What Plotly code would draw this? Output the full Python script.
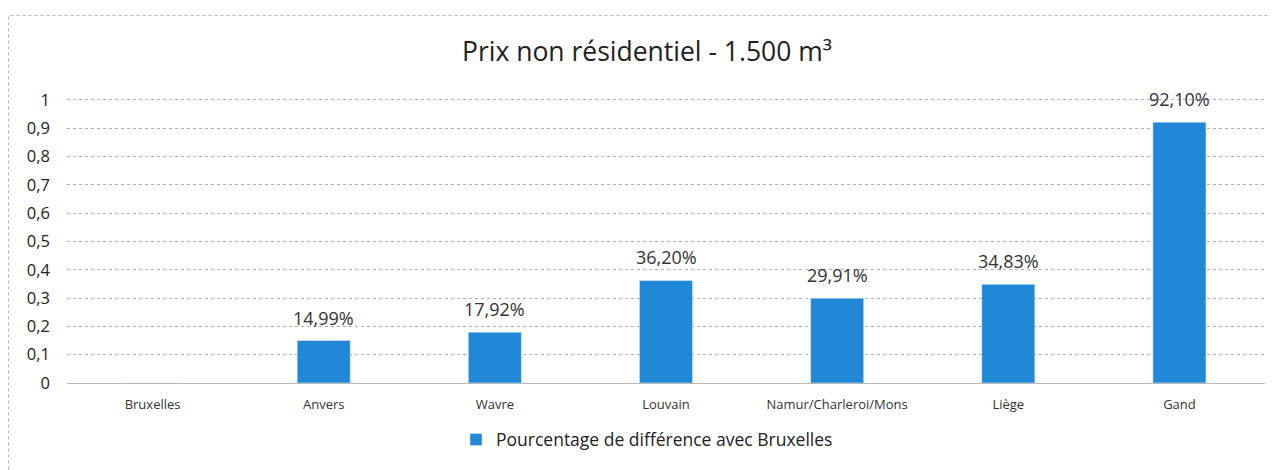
import plotly.graph_objects as go

categories = ["Bruxelles", "Anvers", "Wavre", "Louvain", "Namur/Charleroi/Mons", "Liège", "Gand"]
values = [0, 0.1499, 0.1792, 0.3620, 0.2991, 0.3483, 0.9210]
labels = ["", "14,99%", "17,92%", "36,20%", "29,91%", "34,83%", "92,10%"]
series_name = "Pourcentage de différence avec Bruxelles"
y_ticks = [0, 0.1, 0.2, 0.3, 0.4, 0.5, 0.6, 0.7, 0.8, 0.9, 1]
y_tick_text = ["0", "0,1", "0,2", "0,3", "0,4", "0,5", "0,6", "0,7", "0,8", "0,9", "1"]

FONT = "Open Sans"
OFF = 8  # page body margin
W, H = 1279 - OFF, 470 - OFF
YMAX = 1.01
# target page pixel positions
plot_left, plot_right = 67, 1265
y0_px, y1_px = 385, 100
ph = (y0_px - y1_px) * YMAX
T = (y0_px - ph) - OFF
B = H - (y0_px - OFF)
L = plot_left - OFF
R = W - (plot_right - OFF)
pw = W - L - R

def px_x(p):
    return (p - OFF - L) / pw

def px_y(p):
    return ((y0_px - OFF) - (p - OFF)) / ph

fig = go.Figure()
fig.add_trace(go.Bar(
    x=categories, y=values, name=series_name,
    marker=dict(color="#2088d6"),
    width=0.31,
    showlegend=True,
))
for c, v, t in zip(categories, values, labels):
    if t:
        fig.add_annotation(x=c, y=v, text=t, showarrow=False, yanchor="middle", yshift=23,
                           font=dict(family=FONT, size=18, color="#333333"))
fig.update_layout(
    width=W, height=H,
    paper_bgcolor="white", plot_bgcolor="white",
    margin=dict(l=L, r=R, t=T, b=B),
    title=dict(text="Prix non résidentiel - 1.500 m³", x=(647 - OFF) / W, xanchor="center",
               y=1 - (52 - OFF) / H, yanchor="middle",
               font=dict(family=FONT, size=26.5, color="#222222")),
    xaxis=dict(tickfont=dict(family=FONT, size=13, color="#333333"),
               showgrid=False, showline=False, ticks="", automargin=False,
               ticklabelstandoff=12),
    yaxis=dict(range=[0, YMAX], tickvals=y_ticks, ticktext=y_tick_text,
               tickfont=dict(family=FONT, size=16.5, color="#222222"),
               showgrid=True, gridcolor="#b0b0b0", griddash="dot", gridwidth=1,
               zeroline=True, zerolinecolor="#b8b8b8", zerolinewidth=1,
               ticks="", ticklabelstandoff=16, automargin=False),
    legend=dict(orientation="h", x=px_x(647), xanchor="center",
                y=px_y(442), yanchor="middle",
                font=dict(family=FONT, size=17.5, color="#222222")),
    shapes=[dict(type="rect", xref="paper", yref="paper",
                 x0=px_x(8.5), x1=px_x(1300),
                 y0=px_y(500), y1=px_y(15),
                 line=dict(color="#b0b0b0", width=1, dash="dot"))],
)
fig.write_html("out.html")
